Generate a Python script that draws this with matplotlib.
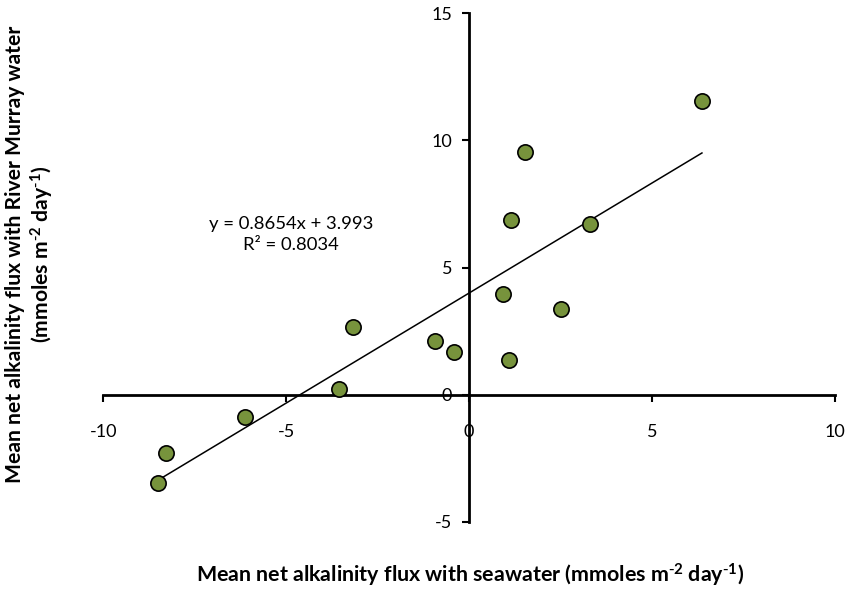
import matplotlib
matplotlib.use("Agg")
import matplotlib.pyplot as plt
import numpy as np

plt.rcParams["font.family"] = ["Lato", "DejaVu Sans"]
plt.rcParams["axes.unicode_minus"] = False
plt.rcParams["mathtext.default"] = "regular"

# mean net alkalinity flux (mmoles m-2 day-1)
seawater = [6.37, 1.54, 1.15, 3.31, 0.93, 2.52, -0.94, -0.41, 1.10,
            -3.16, -3.56, -6.12, -8.28, -8.50]
river_murray = [11.56, 9.54, 6.86, 6.72, 3.94, 3.35, 2.09, 1.67, 1.37,
                2.65, 0.22, -0.87, -2.30, -3.48]

slope = 0.8654
intercept = 3.993
r_squared = 0.8034

x_ticks = [-10, -5, 0, 5, 10]
y_ticks = [-5, 0, 5, 10, 15]

units = r"(mmoles m$^{\text{-}2}$ day$^{\text{-}1}$)"

fig = plt.figure(figsize=(8.5, 5.94), dpi=100)
ax = fig.add_axes([0.1215, 0.1217, 0.8605, 0.8559])

xs = np.array([min(seawater), max(seawater)])
ax.plot(xs, slope * xs + intercept, color="black", linewidth=1.1, zorder=2)
ax.plot(seawater, river_murray, "o", markersize=11, markerfacecolor="#77933C",
        markeredgecolor="black", markeredgewidth=1.2, zorder=3)

ax.set_xlim(-10, 10)
ax.set_ylim(-5, 15)
ax.set_xticks(x_ticks)
ax.set_yticks(y_ticks)

ax.spines["top"].set_visible(False)
ax.spines["right"].set_visible(False)
ax.spines["left"].set_position(("data", 0))
ax.spines["bottom"].set_position(("data", 0))
for s in ("left", "bottom"):
    ax.spines[s].set_linewidth(2)

ax.tick_params(axis="x", direction="out", length=5, width=1.5, pad=16, labelsize=13)
ax.tick_params(axis="y", direction="out", length=5, width=1.5, pad=7, labelsize=13)

ax.text(-4.86, 6.3, f"y = {slope}x + {intercept}\nR² = {r_squared}",
        ha="center", va="center", fontsize=13.3, linespacing=1.35)

fig.text(0.553, 0.032, "Mean net alkalinity flux with seawater " + units,
         ha="center", va="center", fontsize=15.4, fontweight="bold")
fig.text(0.036, 0.572,
         "Mean net alkalinity flux with River Murray water\n" + units,
         ha="center", va="center", rotation=90, fontsize=15.2, fontweight="bold",
         linespacing=1.15)

fig.savefig("out.png", dpi=100)
plt.close(fig)
